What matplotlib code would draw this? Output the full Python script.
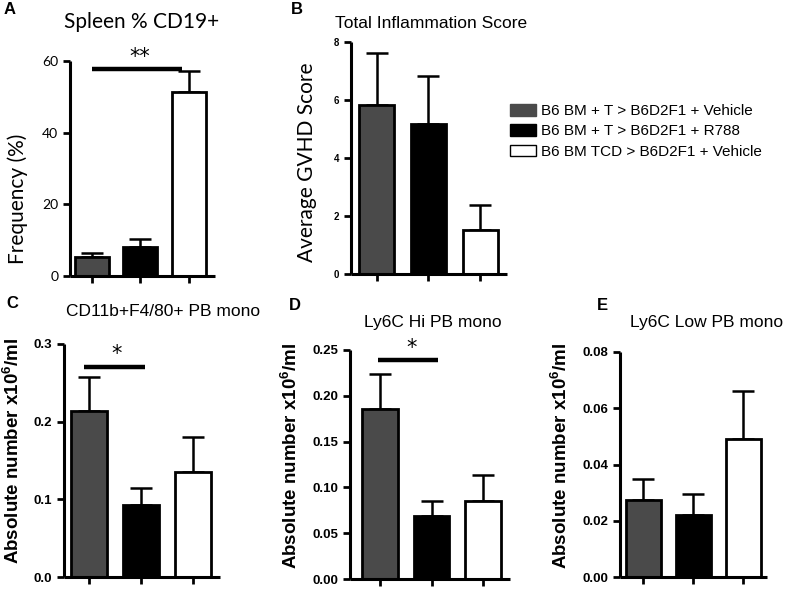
import matplotlib
matplotlib.use("Agg")
import matplotlib.pyplot as plt
from matplotlib.patches import Patch

plt.rcParams['font.family'] = ['Liberation Sans', 'DejaVu Sans']
plt.rcParams['mathtext.fontset'] = 'custom'
plt.rcParams['mathtext.rm'] = 'Liberation Sans'
plt.rcParams['mathtext.bf'] = 'Liberation Sans:bold'

# ---------------- data ----------------
groups = ["B6 BM + T > B6D2F1 + Vehicle",
          "B6 BM + T > B6D2F1 + R788",
          "B6 BM TCD > B6D2F1 + Vehicle"]
bar_colors = ["#4a4a4a", "#000000", "#ffffff"]

a_mean = [5.3, 8.1, 51.3]
a_err = [1.2, 2.2, 5.9]
a_ticks = [0, 20, 40, 60]

b_mean = [5.83, 5.17, 1.52]
b_err = [1.79, 1.66, 0.86]
b_ticks = [0, 2, 4, 6, 8]

c_mean = [0.214, 0.093, 0.135]
c_err = [0.043, 0.022, 0.045]
c_ticks = [0.0, 0.1, 0.2, 0.3]
c_ticklabels = ["0.0", "0.1", "0.2", "0.3"]

d_mean = [0.186, 0.069, 0.085]
d_err = [0.038, 0.016, 0.029]
d_ticks = [0.00, 0.05, 0.10, 0.15, 0.20, 0.25]
d_ticklabels = ["0.00", "0.05", "0.10", "0.15", "0.20", "0.25"]

e_mean = [0.0274, 0.0222, 0.0492]
e_err = [0.0076, 0.0074, 0.0170]
e_ticks = [0.00, 0.02, 0.04, 0.06, 0.08]
e_ticklabels = ["0.00", "0.02", "0.04", "0.06", "0.08"]

titles = ["Spleen % CD19+", "Total Inflammation Score",
          "CD11b+F4/80+ PB mono", "Ly6C Hi PB mono", "Ly6C Low PB mono"]
abs_label = r"Absolute number x10$^{\mathbf{6}}$/ml"

# ---------------- figure ----------------
W, H = 795, 589
fig = plt.figure(figsize=(W / 100, H / 100), dpi=100)


def make_ax(left, right, top, bottom):
    return fig.add_axes([left / W, 1 - bottom / H, (right - left) / W, (bottom - top) / H])


def style(ax, lw=2.2):
    for s in ["top", "right"]:
        ax.spines[s].set_visible(False)
    for s in ["left", "bottom"]:
        ax.spines[s].set_linewidth(lw)
        ax.spines[s].set_capstyle('butt')
    ax.tick_params(axis='both', width=lw * 0.9, length=5, direction='out')
    ax.set_facecolor('none')


def bars(ax, means, errs, width, edge_lw=2.0, err_lw=1.8, capsize=None):
    x = list(range(len(means)))
    ax.errorbar(x, means, yerr=[[0] * len(errs), errs], fmt='none', ecolor='black',
                elinewidth=err_lw, capsize=capsize, capthick=err_lw, zorder=1)
    ax.bar(x, means, width=width, color=bar_colors, edgecolor='black',
           linewidth=edge_lw, zorder=2)
    ax.set_xticks(x)
    ax.set_xticklabels([])


# ---- Panel A ----
axA = make_ax(70, 215, 61, 276)
style(axA)
bars(axA, a_mean, a_err, 0.70, capsize=8)
axA.set_xlim(-0.45, 2.54)
axA.set_ylim(0, 60)
axA.set_yticks(a_ticks)
axA.set_yticklabels([str(t) for t in a_ticks], fontfamily='Lato', fontsize=10)
axA.set_ylabel("Frequency (%)", fontfamily='Lato', fontsize=15)
axA.yaxis.set_label_coords(-0.29, 0.36)
axA.plot([0.0, 1.86], [57.8, 57.8], color='black', lw=3.2, solid_capstyle='butt', clip_on=False, zorder=3)
axA.text(0.99, 58.3, "**", ha='center', va='bottom', fontsize=15, fontfamily='DejaVu Sans', clip_on=False)
fig.text(142 / W, 1 - 22 / H, titles[0], ha='center', va='center', fontfamily='Lato', fontsize=15)
fig.text(10 / W, 1 - 10 / H, "A", ha='center', va='center', fontsize=12, fontweight='bold')

# ---- Panel B ----
axB = make_ax(351, 507, 42, 274)
style(axB)
bars(axB, b_mean, b_err, 0.68, capsize=8)
axB.set_xlim(-0.50, 2.52)
axB.set_ylim(0, 8)
axB.set_yticks(b_ticks)
axB.set_yticklabels([str(t) for t in b_ticks], fontsize=7, fontweight='bold')
axB.set_ylabel("Average GVHD Score", fontfamily='Lato', fontsize=15)
axB.yaxis.set_label_coords(-0.22, 0.48)
fig.text(335 / W, 1 - 23 / H, titles[1], ha='left', va='center', fontsize=12.5)
fig.text(297 / W, 1 - 9 / H, "B", ha='center', va='center', fontsize=12, fontweight='bold')

# ---- Panel C ----
axC = make_ax(64, 220, 344, 577)
style(axC)
bars(axC, c_mean, c_err, 0.69, capsize=8)
axC.set_xlim(-0.48, 2.52)
axC.set_ylim(0, 0.3)
axC.set_yticks(c_ticks)
axC.set_yticklabels(c_ticklabels, fontsize=9.5, fontweight='bold')
axC.set_ylabel(abs_label, fontsize=13.5, fontweight='bold')
axC.yaxis.set_label_coords(-0.265, 0.54)
axC.plot([-0.10, 1.08], [0.271, 0.271], color='black', lw=3.2, solid_capstyle='butt', clip_on=False, zorder=3)
axC.text(0.54, 0.274, "*", ha='center', va='bottom', fontsize=15, fontfamily='DejaVu Sans', clip_on=False)
fig.text(163 / W, 1 - 312 / H, titles[2], ha='center', va='center', fontsize=12.5)
fig.text(12 / W, 1 - 303 / H, "C", ha='center', va='center', fontsize=12, fontweight='bold')

# ---- Panel D ----
axD = make_ax(350, 510, 350, 579)
style(axD)
bars(axD, d_mean, d_err, 0.69, capsize=8)
axD.set_xlim(-0.58, 2.52)
axD.set_ylim(0, 0.25)
axD.set_yticks(d_ticks)
axD.set_yticklabels(d_ticklabels, fontsize=9.5, fontweight='bold')
axD.set_ylabel(abs_label, fontsize=13.5, fontweight='bold')
axD.yaxis.set_label_coords(-0.305, 0.54)
axD.plot([-0.04, 1.13], [0.239, 0.239], color='black', lw=3.2, solid_capstyle='butt', clip_on=False, zorder=3)
axD.text(0.62, 0.241, "*", ha='center', va='bottom', fontsize=15, fontfamily='DejaVu Sans', clip_on=False)
fig.text(433 / W, 1 - 322 / H, titles[3], ha='center', va='center', fontsize=12.5)
fig.text(295 / W, 1 - 305 / H, "D", ha='center', va='center', fontsize=12, fontweight='bold')

# ---- Panel E ----
axE = make_ax(620, 767, 352, 577)
style(axE)
bars(axE, e_mean, e_err, 0.70, capsize=8)
axE.set_xlim(-0.46, 2.48)
axE.set_ylim(0, 0.08)
axE.set_yticks(e_ticks)
axE.set_yticklabels(e_ticklabels, fontsize=9.5, fontweight='bold')
axE.set_ylabel(abs_label, fontsize=13.5, fontweight='bold')
axE.yaxis.set_label_coords(-0.33, 0.54)
fig.text(707 / W, 1 - 322 / H, titles[4], ha='center', va='center', fontsize=12.5)
fig.text(602 / W, 1 - 305 / H, "E", ha='center', va='center', fontsize=12, fontweight='bold')

# ---- Legend ----
handles = [Patch(facecolor=bar_colors[0], edgecolor=bar_colors[0], linewidth=1),
           Patch(facecolor=bar_colors[1], edgecolor='black', linewidth=1),
           Patch(facecolor=bar_colors[2], edgecolor='black', linewidth=1)]
fig.legend(handles, groups, loc='upper left', bbox_to_anchor=(510 / W, 1 - 104 / H),
           frameon=False, fontsize=11, handlelength=1.7, handleheight=0.8,
           handletextpad=0.35, labelspacing=0.4, borderpad=0, borderaxespad=0)

fig.savefig("out.png", dpi=100, facecolor='white')
